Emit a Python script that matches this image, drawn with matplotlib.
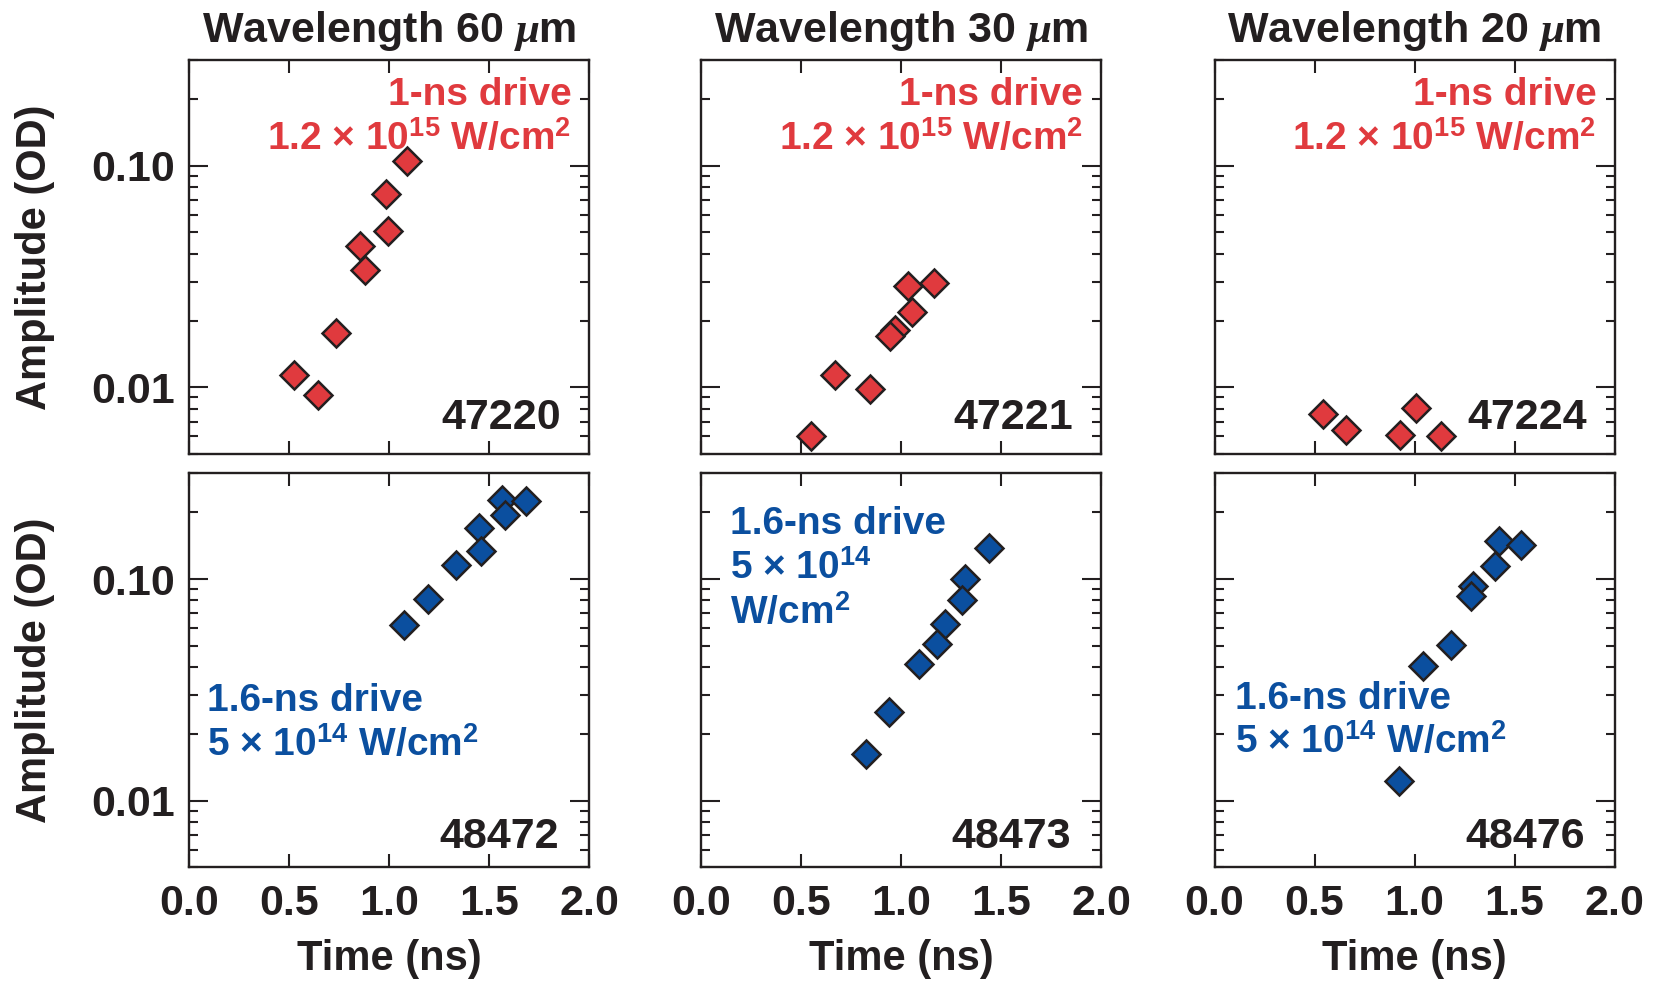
import matplotlib
matplotlib.use("Agg")
import matplotlib.pyplot as plt
from matplotlib.ticker import FixedLocator, LogLocator, NullFormatter, FixedFormatter

plt.rcParams['font.family'] = ['Liberation Sans', 'DejaVu Sans']
plt.rcParams['font.weight'] = 'bold'
plt.rcParams['axes.labelweight'] = 'bold'
plt.rcParams['font.size'] = 31
plt.rcParams['mathtext.fontset'] = 'custom'
plt.rcParams['mathtext.rm'] = 'Liberation Sans:bold'
plt.rcParams['mathtext.bf'] = 'Liberation Sans:bold'
plt.rcParams['mathtext.sf'] = 'Liberation Sans'
plt.rcParams['mathtext.it'] = 'Liberation Serif:italic'

RED = '#e03a3e'
BLUE = '#0b4f9f'
INK = '#231f20'

titles = ['Wavelength 60 $\\mu$m', 'Wavelength 30 $\\mu$m', 'Wavelength 20 $\\mu$m']

# top row: 1-ns drive, 1.2e15 W/cm2
shots_top = ['47220', '47221', '47224']
t_47220 = [1.087, 0.982, 0.993, 0.853, 0.880, 0.733, 0.522, 0.642]
a_47220 = [0.105, 0.0745, 0.0508, 0.0435, 0.0337, 0.0176, 0.0114, 0.0092]
t_47221 = [1.163, 1.037, 1.055, 0.968, 0.945, 0.668, 0.847, 0.548]
a_47221 = [0.0296, 0.0288, 0.0219, 0.0181, 0.0171, 0.0114, 0.0098, 0.0060]
t_47224 = [0.542, 0.657, 1.008, 0.928, 1.130]
a_47224 = [0.0076, 0.0064, 0.0081, 0.0061, 0.0060]

# bottom row: 1.6-ns drive, 5e14 W/cm2
shots_bot = ['48472', '48473', '48476']
t_48472 = [1.565, 1.682, 1.578, 1.448, 1.460, 1.335, 1.195, 1.073]
a_48472 = [0.228, 0.225, 0.195, 0.170, 0.134, 0.116, 0.081, 0.062]
t_48473 = [1.442, 1.322, 1.303, 1.222, 1.180, 1.088, 0.942, 0.823]
a_48473 = [0.1375, 0.100, 0.080, 0.0626, 0.0509, 0.0412, 0.0251, 0.0162]
t_48476 = [1.423, 1.534, 1.401, 1.294, 1.281, 1.184, 1.043, 0.923]
a_48476 = [0.149, 0.142, 0.115, 0.0926, 0.0835, 0.0502, 0.0406, 0.0123]

top_data = [(t_47220, a_47220), (t_47221, a_47221), (t_47224, a_47224)]
bot_data = [(t_48472, a_48472), (t_48473, a_48473), (t_48476, a_48476)]

xticks = [0.0, 0.5, 1.0, 1.5, 2.0]
xticklabels = ['0.0', '0.5', '1.0', '1.5', '2.0']

W, H = 1655, 981
fig = plt.figure(figsize=(W / 100, H / 100), dpi=100)

lefts = [189.3, 701.0, 1214.5]
tops = [60.0, 473.3]
aw, ah = 400.0, 394.0
NOTE = 28  # annotation font size
TIMES = ' $\\mathsf{\\times}$ '


def style(ax, col, row):
    ax.set_yscale('log')
    ax.set_xlim(0, 2)
    ax.set_ylim(0.005, 0.3)
    ax.xaxis.set_major_locator(FixedLocator(xticks))
    ax.yaxis.set_major_locator(FixedLocator([0.01, 0.1]))
    ax.yaxis.set_minor_locator(LogLocator(base=10, subs=[2, 3, 4, 5, 6, 7, 8, 9]))
    ax.yaxis.set_minor_formatter(NullFormatter())
    ax.tick_params(which='both', direction='in', top=True, right=True, color=INK)
    ax.tick_params(axis='x', which='major', length=9.5, width=1.5, pad=12)
    ax.tick_params(axis='y', which='major', length=13.5, width=1.5, pad=10)
    ax.tick_params(axis='y', which='minor', length=6.5, width=1.5)
    for s in ax.spines.values():
        s.set_linewidth(1.7)
        s.set_color(INK)
    if col == 0:
        ax.yaxis.set_major_formatter(FixedFormatter(['0.01', '0.10']))
        ax.set_ylabel('Amplitude (OD)', color=INK, fontsize=30, fontweight='bold')
        ax.yaxis.set_label_coords(-0.336, 0.5)
    else:
        ax.yaxis.set_major_formatter(NullFormatter())
    if row == 1:
        ax.xaxis.set_major_formatter(FixedFormatter(xticklabels))
        ax.set_xlabel('Time (ns)', color=INK, fontsize=30, fontweight='bold')
        ax.xaxis.set_label_coords(0.5, -0.182)
    else:
        ax.xaxis.set_major_formatter(NullFormatter())
    ax.tick_params(labelcolor=INK)


for col in range(3):
    for row in range(2):
        x0 = lefts[col] / W
        y0 = 1 - (tops[row] + ah) / H
        ax = fig.add_axes([x0, y0, aw / W, ah / H])
        style(ax, col, row)
        if row == 0:
            t, a = top_data[col]
            c = RED
            ax.set_title(titles[col], pad=13, fontsize=31, fontweight='bold', color=INK)
            ax.text(0.955, 0.885, '1-ns drive', color=c, ha='right', va='baseline',
                    fontsize=NOTE, transform=ax.transAxes)
            ax.text(0.955, 0.773, '1.2' + TIMES + '10$^{15}$ W/cm$^{2}$', color=c,
                    ha='right', va='baseline', fontsize=NOTE, transform=ax.transAxes)
            ax.text(0.93, 0.063, shots_top[col], color=INK, ha='right', va='baseline',
                    transform=ax.transAxes)
        else:
            t, a = bot_data[col]
            c = BLUE
            if col == 1:
                ax.text(0.0725, 0.846, '1.6-ns drive', color=c, ha='left', va='baseline',
                        fontsize=NOTE, transform=ax.transAxes)
                ax.text(0.0725, 0.731, '5' + TIMES + '10$^{14}$', color=c, ha='left',
                        va='baseline', fontsize=NOTE, transform=ax.transAxes)
                ax.text(0.0725, 0.619, 'W/cm$^{2}$', color=c, ha='left', va='baseline',
                        fontsize=NOTE, transform=ax.transAxes)
            else:
                xl = 0.044 if col == 0 else 0.051
                yl = 0.397 if col == 0 else 0.403
                ax.text(xl, yl, '1.6-ns drive', color=c, ha='left', va='baseline',
                        fontsize=NOTE, transform=ax.transAxes)
                ax.text(xl, yl - 0.113, '5' + TIMES + '10$^{14}$ W/cm$^{2}$', color=c,
                        ha='left', va='baseline', fontsize=NOTE, transform=ax.transAxes)
            ax.text(0.925, 0.048, shots_bot[col], color=INK, ha='right', va='baseline',
                    transform=ax.transAxes)
        ax.plot(t, a, 'D', ms=14.5, mfc=c, mec=INK, mew=1.8, clip_on=False, zorder=3)

fig.savefig('out.png', dpi=100)
